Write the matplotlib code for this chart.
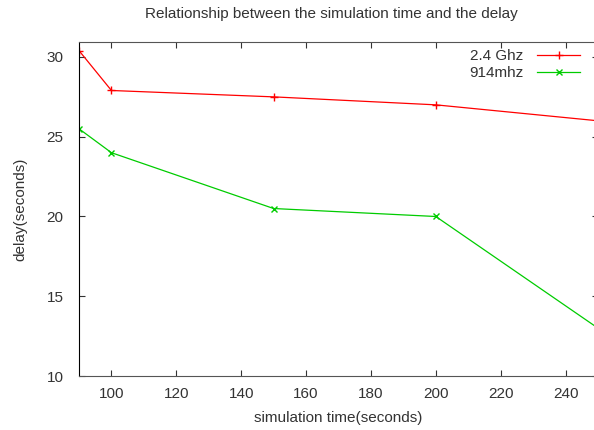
import matplotlib.pyplot as plt

sim_time = [90, 100, 150, 200, 250]
delay_24ghz = [30.4, 27.9, 27.5, 27.0, 26.0]
delay_914mhz = [25.5, 24.0, 20.5, 20.0, 13.0]
x_ticks = [100, 120, 140, 160, 180, 200, 220, 240]
y_ticks = [10, 15, 20, 25, 30]

plt.rcParams['font.family'] = ['Liberation Sans', 'DejaVu Sans']
text_color = '#333333'

fig = plt.figure(figsize=(5.94, 4.30), dpi=100)
ax = fig.add_axes([79 / 594, 54 / 430, 519 / 594, 334 / 430])

ax.plot(sim_time, delay_24ghz, color='#ff0000', marker='+', markersize=6,
        linewidth=0.9, label='2.4 Ghz')
ax.plot(sim_time, delay_914mhz, color='#00cc00', marker='x', markersize=4.5,
        linewidth=0.9, label='914mhz')

ax.set_xlim(90, 250)
ax.set_ylim(10, 30.94)
ax.set_xticks(x_ticks)
ax.set_yticks(y_ticks)
ax.tick_params(direction='in', length=4, top=True, right=True, labelsize=11,
               colors=text_color, pad=11)
ax.tick_params(axis='x', pad=8)
for side in ['top', 'right', 'bottom']:
    ax.spines[side].set_color('#555555')
ax.spines['left'].set_color('black')

fig.text(331 / 594, 1 - 14 / 430,
         'Relationship between the simulation time and the delay',
         fontsize=11, color=text_color, ha='center', va='center')
ax.set_xlabel('simulation time(seconds)', fontsize=11, color=text_color, labelpad=7)
ax.set_ylabel('delay(seconds)', fontsize=11, color=text_color, labelpad=14)

leg = ax.legend(loc='upper right', bbox_to_anchor=(580 / 594, 1 - 49 / 430),
                bbox_transform=fig.transFigure, frameon=False,
                markerfirst=False, fontsize=11, handlelength=2.8,
                labelspacing=0.22, handletextpad=0.9, borderpad=0,
                borderaxespad=0)
for t in leg.get_texts():
    t.set_ha('right')
    t.set_color(text_color)

fig.savefig('out.png', dpi=100)
